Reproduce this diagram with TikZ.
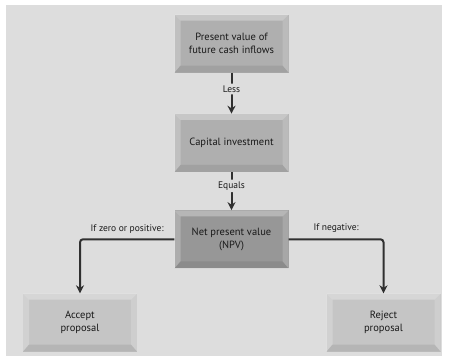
\documentclass[tikz,border=0pt]{standalone}
\usepackage{fontspec}
\setmainfont{PT Sans}
\usetikzlibrary{positioning,arrows.meta}

\definecolor{panel}{HTML}{DDDDDD}
\definecolor{facemid}{HTML}{AFAFAF}
\definecolor{facedark}{HTML}{979797}
\definecolor{facelight}{HTML}{C5C5C5}
\definecolor{linegray}{HTML}{303030}

\begin{document}
\begin{tikzpicture}[x=1pt,y=1pt]
                        \tikzstyle{bevelbox}=[minimum width=114pt, minimum height=58pt, inner sep=0pt,
                            align=center, font=\fontsize{10.5}{12.5}\selectfont, text=black!90,
                            path picture={
                                \coordinate (bnw) at (path picture bounding box.north west);
                                \coordinate (bne) at (path picture bounding box.north east);
                                \coordinate (bsw) at (path picture bounding box.south west);
                                \coordinate (bse) at (path picture bounding box.south east);
                                \fill[white,opacity=.30] (bnw) -- (bne) -- ([shift={(-6pt,-6pt)}]bne) -- ([shift={(6pt,-6pt)}]bnw) -- cycle;
                                \fill[white,opacity=.22] (bnw) -- (bsw) -- ([shift={(6pt,7pt)}]bsw) -- ([shift={(6pt,-6pt)}]bnw) -- cycle;
                                \fill[white,opacity=.16] (bne) -- (bse) -- ([shift={(-6pt,7pt)}]bse) -- ([shift={(-6pt,-6pt)}]bne) -- cycle;
                                \fill[black,opacity=.08] (bsw) -- (bse) -- ([shift={(-6pt,7pt)}]bse) -- ([shift={(6pt,7pt)}]bsw) -- cycle;
                            }]
                        \tikzstyle{conn}=[draw=linegray, line width=2pt, rounded corners=3pt,
                            -{Stealth[length=8pt,width=8pt]}]
                        \tikzstyle{lbl}=[font=\fontsize{9.5}{11}\selectfont, text=black!90]
                        % panel and page
                        \useasboundingbox (0,0) rectangle (452,-356);
                        \fill[panel] (6,-5) rectangle (442,-356);
                        % boxes
                        \node[bevelbox, fill=facemid] (pv) at (231.5,-43.5) {Present value of\\future cash inflows};
                        \node[bevelbox, fill=facemid, below=41pt of pv] (capinv) {Capital investment};
                        \node[bevelbox, fill=facedark, below=38pt of capinv] (npv) {Net present value\\(NPV)};
                        \node[bevelbox, fill=facelight] (accept) at (80,-322.5) {Accept\\proposal};
                        \node[bevelbox, fill=facelight] (reject) at (383.5,-322.5) {Reject\\proposal};
                        % connectors
                        \draw[conn] (pv) -- node[lbl, pos=.4, fill=panel, inner sep=2pt] {Less} (capinv);
                        \draw[conn] (capinv) -- node[lbl, pos=.36, fill=panel, inner sep=2pt] {Equals} (npv);
                        \draw[conn] (npv.west) -| node[lbl, pos=.25, above=2pt] {If zero or positive:} (accept.north);
                        \draw[conn] (npv.east) -| node[lbl, pos=.25, above=2pt] {If negative:} (reject.north);
                    \end{tikzpicture}
\end{document}
